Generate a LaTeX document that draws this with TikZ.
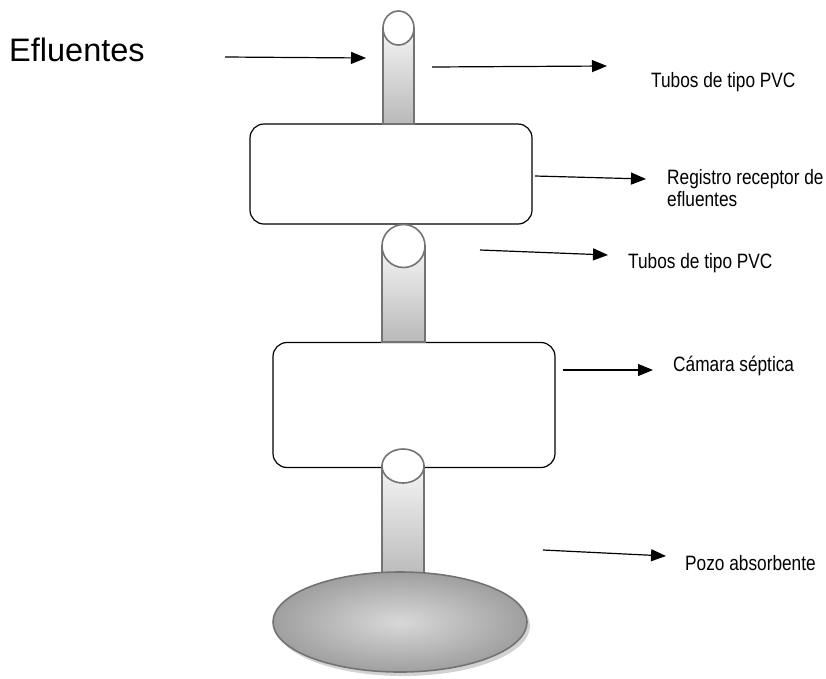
\documentclass[tikz,border=0pt]{standalone}
\usepackage{fontspec}
\setmainfont{Liberation Sans}
\usetikzlibrary{arrows.meta,shapes.geometric}
\tikzset{
  pipeline/.style={draw=black!55, line width=1.6pt, top color=gray!8, bottom color=gray!55},
  pipetop/.style={draw=black!55, line width=1.6pt, fill=white},
  boxe/.style={draw=black, line width=1.2pt, rounded corners=14pt, fill=white},
  arr/.style={draw=black, line width=1.2pt, -{Triangle[length=15pt,width=12pt]}},
  lbl/.style={anchor=west, inner sep=0pt, font=\fontsize{20.8}{25}\selectfont},
}
\newcommand{\nar}[1]{\scalebox{0.83}[1]{#1}}
\begin{document}
\begin{tikzpicture}[x=1pt,y=-1pt]
\useasboundingbox (0,0) rectangle (826,678);
% boxes
\node[boxe, minimum width=282pt, minimum height=100pt] (reg) at (391,174) {};
\node[boxe, minimum width=282pt, minimum height=125pt] (cam) at (414,405) {};
% pipe 1
\path[pipeline] (383,28) rectangle (414,124);
\node[pipetop, ellipse, minimum width=31pt, minimum height=34pt, inner sep=0pt] (p1) at (398.5,28) {};
% pipe 2
\path[pipeline] (382,246) rectangle (425,342);
\node[pipetop, circle, minimum size=43pt, inner sep=0pt] (p2) at (403.5,246) {};
% pipe 3
\path[pipeline] (382,466) rectangle (424,580) ;
% pozo shadow + ellipse
\fill[gray!35] (403,626) ellipse [x radius=127pt, y radius=50pt];
\node[ellipse, draw=black!55, line width=1.6pt, inner color=gray!30, outer color=gray!75, minimum width=254pt, minimum height=100pt, inner sep=0pt] (pozo) at (400,622) {};
\node[pipetop, ellipse, minimum width=42pt, minimum height=34pt, inner sep=0pt] (p3) at (403,466) {};
% labels
\node[anchor=west, inner sep=0pt, font=\fontsize{32.5}{38}\selectfont] (eflu) at (9,50) {Efluentes};
\node[lbl] (t1) at (651,82) {\nar{Tubos de tipo PVC}};
\node[lbl, align=left] (t2) at (667,188) {\nar{Registro receptor de}\\[-3pt]\nar{efluentes}};
\node[lbl] (t3) at (628,263) {\nar{Tubos de tipo PVC}};
\node[lbl] (t4) at (673,366) {\nar{Cámara séptica}};
\node[lbl] (t5) at (685,563) {\nar{Pozo absorbente}};
% arrows
\coordinate (a1s) at (225,57); \coordinate (a1e) at (366,58);
\coordinate (a2s) at (432,67); \coordinate (a2e) at (607,66);
\coordinate (a3s) at (535,176); \coordinate (a3e) at (646,179);
\coordinate (a4s) at (480,250); \coordinate (a4e) at (608,255);
\coordinate (a5s) at (563,370); \coordinate (a5e) at (653,370);
\coordinate (a6s) at (543,550); \coordinate (a6e) at (666,556);
\draw[arr] (a1s) -- (a1e);
\draw[arr] (a2s) -- (a2e);
\draw[arr] (a3s) -- (a3e);
\draw[arr] (a4s) -- (a4e);
\draw[arr] (a5s) -- (a5e);
\draw[arr] (a6s) -- (a6e);
\end{tikzpicture}
\end{document}
